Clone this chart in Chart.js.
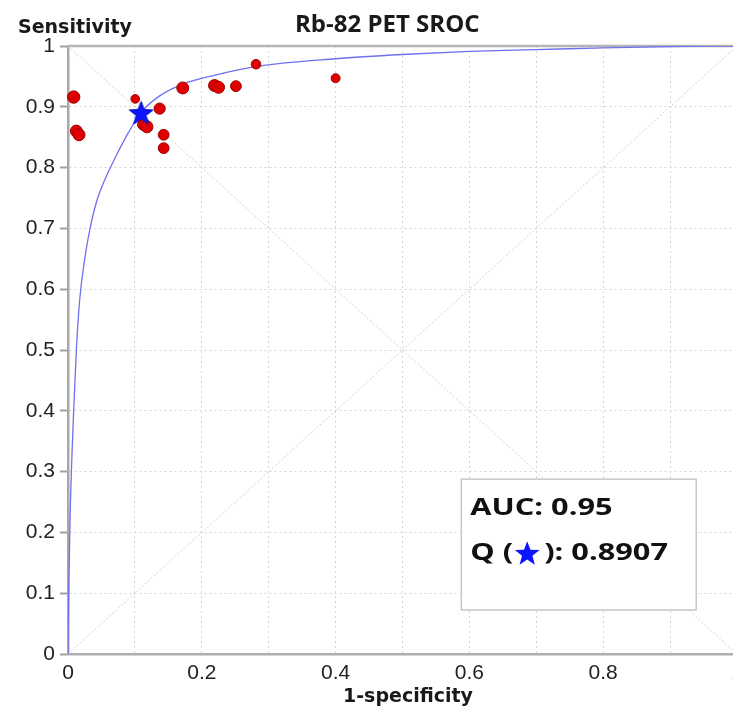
<!DOCTYPE html>
<html>
<head>
<meta charset="utf-8">
<title>Rb-82 PET SROC</title>
<script src="https://cdn.jsdelivr.net/npm/chart.js@4.4.1/dist/chart.umd.min.js"></script>
<style>
  html, body { margin:0; padding:0; background:#fff; width:733px; height:713px; overflow:hidden; }
  canvas { display:block; }
</style>
</head>
<body>
<canvas id="sroc" width="750" height="713"></canvas>
<script>
// Rb-82 PET SROC — summary ROC plot
const chartTitle = 'Rb-82 PET SROC';
const xTitle = '1-specificity';
const yTitle = 'Sensitivity';

// individual studies (1-specificity, sensitivity) and marker weight
const studyFpr  = [0.0085, 0.0125, 0.0165, 0.1005, 0.113, 0.118, 0.137, 0.143, 0.143, 0.1715, 0.219, 0.225, 0.251, 0.281, 0.400];
const studySens = [0.916, 0.860, 0.854, 0.913, 0.871, 0.867, 0.897, 0.854, 0.832, 0.931, 0.935, 0.932, 0.934, 0.970, 0.947];
const studyDot  = [6.2, 6, 6, 4.3, 6, 6, 5.6, 5.4, 5.4, 6, 6, 6, 5.4, 4.8, 4.5];

// fitted SROC curve
const curveFpr  = [0, 0.001, 0.003, 0.006, 0.0085, 0.0125, 0.0175, 0.025, 0.033, 0.043, 0.055, 0.07, 0.09, 0.1093, 0.137, 0.171, 0.22, 0.28, 0.4, 0.5, 0.6, 0.7, 0.8, 0.9, 1.0];
const curveSens = [0, 0.10, 0.22, 0.33, 0.40, 0.50, 0.583, 0.65, 0.70, 0.745, 0.78, 0.815, 0.857, 0.8907, 0.918, 0.937, 0.952, 0.966, 0.979, 0.986, 0.991, 0.994, 0.997, 0.999, 1.0];

// Q* point (sensitivity = specificity)
const qFpr = 0.1093;
const qSens = 0.8907;
const aucLabel = 'AUC: 0.95';
const qLabel = '0.8907';

const yTickLabels = ['0','0.1','0.2','0.3','0.4','0.5','0.6','0.7','0.8','0.9','1'];
const xTickLabels = ['0','','0.2','','0.4','','0.6','','0.8','','1'];

const STAR_BLUE = '#0a14ff';
const TICK_FONT = {family:'"Liberation Sans", Arial, sans-serif', size:21};

function starPath(ctx, cx, cy, R){
  const r = R*0.42;
  ctx.beginPath();
  for(let i=0;i<10;i++){
    const a = -Math.PI/2 + i*Math.PI/5;
    const rad = i%2 ? r : R;
    ctx.lineTo(cx + rad*Math.cos(a), cy + rad*Math.sin(a));
  }
  ctx.closePath();
}

function makeStar(size, fill, stroke){
  const c = document.createElement('canvas');
  c.width = c.height = size;
  const g = c.getContext('2d');
  starPath(g, size/2, size/2 + size*0.05, size/2 - 1);
  g.fillStyle = fill; g.fill();
  g.strokeStyle = stroke; g.lineWidth = 1; g.stroke();
  return c;
}

// stretched text helper (the source figure is drawn a bit wide)
function wideText(ctx, txt, x, y, sx){
  ctx.save();
  ctx.translate(x, y);
  ctx.scale(sx, 1);
  ctx.fillText(txt, 0, 0);
  ctx.restore();
}

const decor = {
  id:'decor',
  beforeDatasetsDraw(chart){
    const {ctx, chartArea:a} = chart;
    ctx.save();
    ctx.strokeStyle = '#b4b4b4';
    ctx.lineWidth = 2.5;
    ctx.beginPath();
    ctx.moveTo(a.left, a.top); ctx.lineTo(a.right, a.top);
    ctx.moveTo(a.right, a.top); ctx.lineTo(a.right, a.bottom);
    ctx.stroke();
    ctx.restore();
  },
  afterDatasetsDraw(chart){
    const {ctx, scales:{x, y}} = chart;
    // AUC / Q* box
    const bx1 = x.getPixelForValue(0.588), bx2 = x.getPixelForValue(0.939);
    const by1 = y.getPixelForValue(0.2876), by2 = y.getPixelForValue(0.0724);
    ctx.save();
    ctx.fillStyle = '#fff';
    ctx.fillRect(bx1, by1, bx2-bx1, by2-by1);
    ctx.strokeStyle = '#c6c6c6';
    ctx.lineWidth = 1.5;
    ctx.strokeRect(bx1, by1, bx2-bx1, by2-by1);

    ctx.fillStyle = '#111';
    ctx.font = 'bold 24px "Open Sans", sans-serif';
    ctx.textBaseline = 'alphabetic';
    ctx.textAlign = 'left';
    const sx = 1.28;
    const tx = bx1 + 9;
    wideText(ctx, aucLabel, tx, by1 + 36, sx);
    const l2 = by1 + 81;
    wideText(ctx, 'Q (', tx, l2, sx);
    const w1 = ctx.measureText('Q (').width * sx;
    const scx = tx + w1 + 14;
    ctx.fillStyle = STAR_BLUE;
    starPath(ctx, scx, l2 - 6, 13);
    ctx.fill();
    ctx.fillStyle = '#111';
    wideText(ctx, '): ' + qLabel, scx + 17, l2, sx);
    ctx.restore();
  },
  afterDraw(chart){
    const {ctx} = chart;
    ctx.save();
    ctx.fillStyle = '#1a1a1a';
    ctx.textBaseline = 'alphabetic';
    ctx.textAlign = 'left';
    ctx.font = 'bold 24px "Open Sans", sans-serif';
    ctx.fillText(chartTitle, 295, 32);
    ctx.font = 'bold 19px "DejaVu Sans", sans-serif';
    ctx.fillText(yTitle, 18, 33);
    ctx.fillText(xTitle, 343, 702);
    ctx.restore();
  }
};

const studies = studyFpr.map((f, i) => ({x:f, y:studySens[i]}));
const curve = curveFpr.map((f, i) => ({x:f, y:curveSens[i]}));

new Chart(document.getElementById('sroc'), {
  type:'scatter',
  data:{ datasets:[
    { label:'Q*', data:[{x:qFpr, y:qSens}], pointStyle:makeStar(27, STAR_BLUE, '#0010c0'),
      pointRadius:12, order:1, clip:false },
    { label:'Studies', data:studies, pointRadius:(c)=>studyDot[c.dataIndex],
      backgroundColor:'#de0000', borderColor:'#a00000', borderWidth:1, order:2, clip:false },
    { label:'SROC', data:curve, showLine:true, pointRadius:0, borderColor:'#7070f0', borderWidth:1.3,
      cubicInterpolationMode:'monotone', order:3 },
    { label:'diag1', data:[{x:0,y:1},{x:1,y:0}], showLine:true, pointRadius:0,
      borderColor:'#d0d0d0', borderWidth:1, borderDash:[2,2], order:4 },
    { label:'diag2', data:[{x:0,y:0},{x:1,y:1}], showLine:true, pointRadius:0,
      borderColor:'#d0d0d0', borderWidth:1, borderDash:[2,2], order:4 },
  ]},
  options:{
    responsive:false, animation:false,
    layout:{ padding:{ top:46, right:11, left:0, bottom:0 } },
    plugins:{ legend:{display:false}, title:{display:false}, tooltip:{enabled:false} },
    scales:{
      x:{ type:'linear', min:0, max:1,
        afterFit:(s)=>{ s.height = 59; },
        ticks:{ stepSize:0.1, autoSkip:false, maxRotation:0, color:'#222', font:TICK_FONT, padding:7,
          callback:(v, i)=>xTickLabels[i] },
        grid:{ color:'#d6d6d6', lineWidth:1, drawTicks:false },
        border:{ color:'#b0b0b0', width:2.5, dash:[2,3] } },
      y:{ type:'linear', min:0, max:1,
        afterFit:(s)=>{ s.width = 68; },
        ticks:{ stepSize:0.1, autoSkip:false, color:'#222', font:TICK_FONT, padding:5,
          callback:(v, i)=>yTickLabels[i] },
        grid:{ color:'#d6d6d6', lineWidth:1, tickLength:8, tickColor:'#a0a0a0', tickWidth:2 },
        border:{ color:'#a8a8a8', width:2.5, dash:[2,3] } }
    }
  },
  plugins:[decor]
});
</script>
</body>
</html>
